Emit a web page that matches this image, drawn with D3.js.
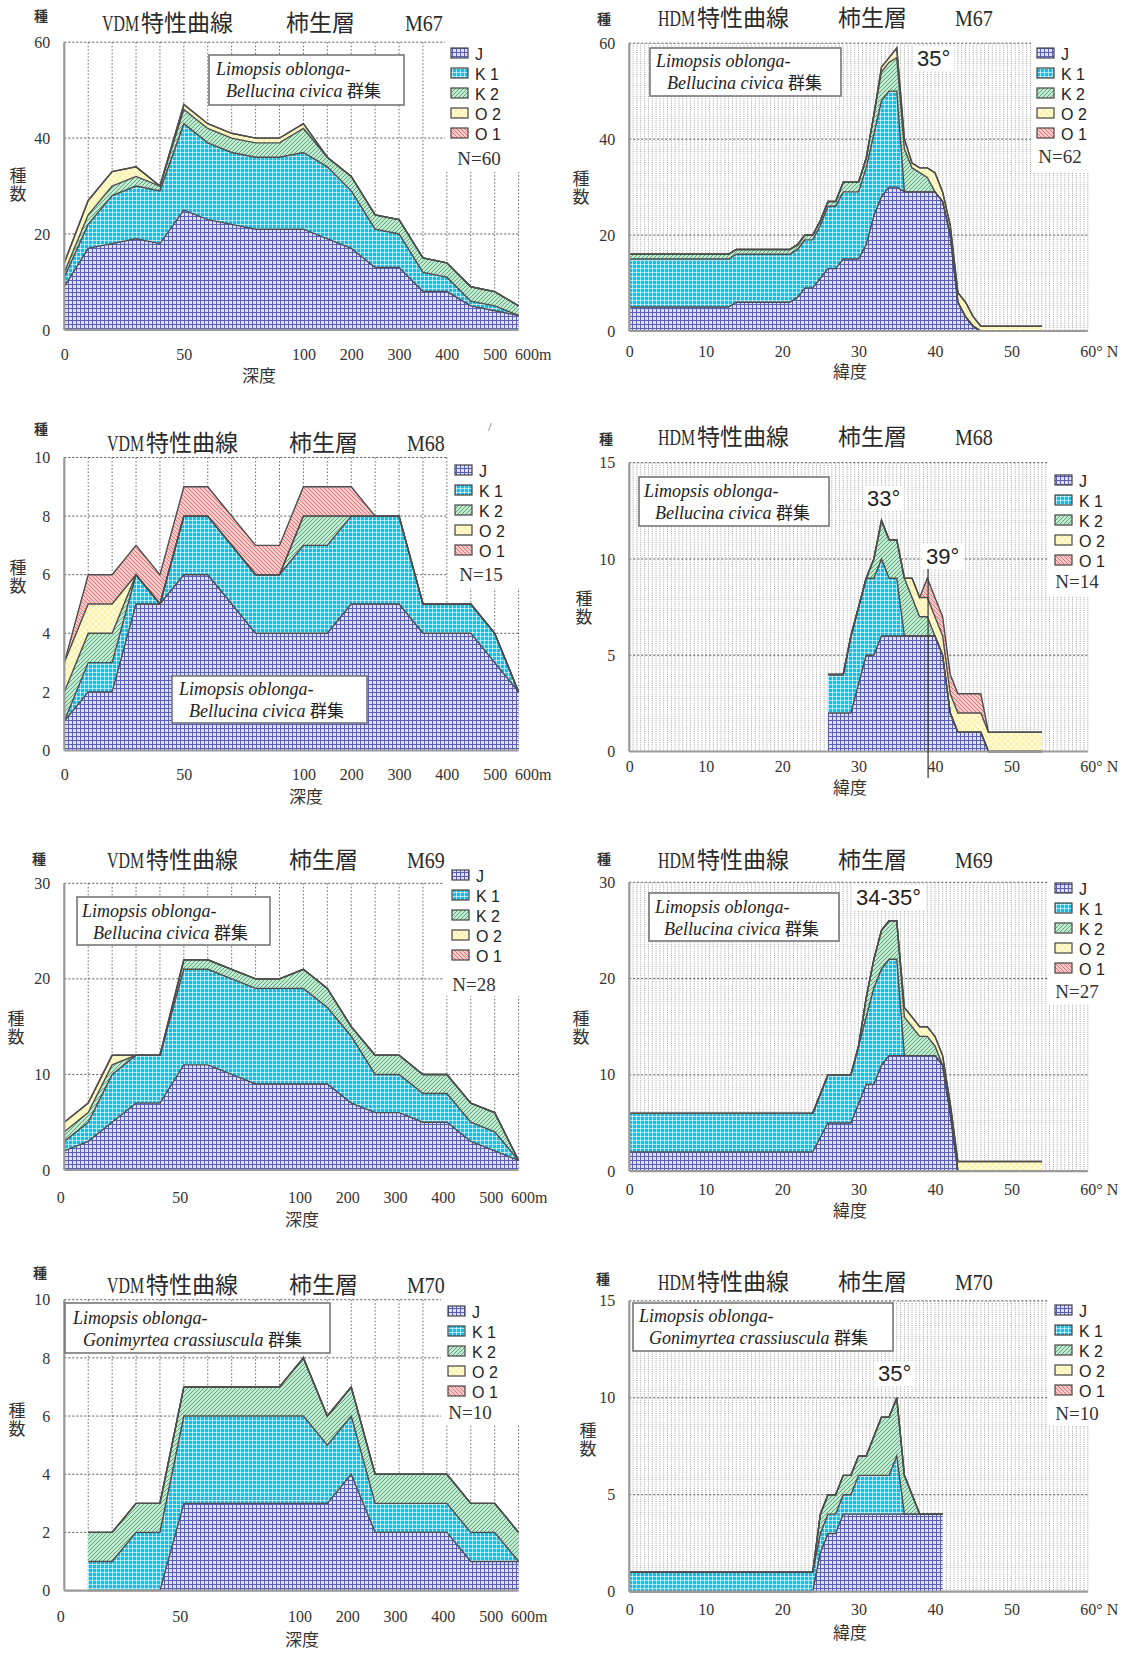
<!DOCTYPE html>
<html>
<head>
<meta charset="utf-8">
<script src="https://cdn.jsdelivr.net/npm/d3@7"></script>
<style>
  body { margin: 0; background: #fff; }
  svg { display: block; }
</style>
</head>
<body>
<div id="chart"></div>
<script>
const layerKeys = ['J', 'K1', 'K2', 'O2', 'O1'];
const legendNames = ['J', 'K 1', 'K 2', 'O 2', 'O 1'];

// depth categories (VDM), evenly spaced on the axis
const depthCats = [0, 10, 20, 30, 40, 50, 60, 70, 80, 90, 100, 150, 200, 250, 300, 350, 400, 450, 500, 600];
const depthTicks = [0, 50, 100, 200, 300, 400, 500, 600];
const latTicks = [0, 10, 20, 30, 40, 50, 60];

// M67 VDM (species per layer at each depth)
const m67dJ = [9, 17, 18, 19, 18, 25, 23, 22, 21, 21, 21, 19, 17, 13, 13, 8, 8, 5, 4, 3];
const m67dK1 = [2, 5, 10, 11, 11, 18, 16, 15, 15, 15, 16, 15, 12, 8, 7, 4, 3, 1, 1, 0];
const m67dK2 = [1, 2, 2, 2, 1, 3, 3, 3, 3, 3, 5, 2, 3, 3, 3, 3, 3, 3, 3, 2];
const m67dO2 = [2, 3, 3, 2, 0, 1, 1, 1, 1, 1, 1, 0, 0, 0, 0, 0, 0, 0, 0, 0];

// M67 HDM
const m67lLat = [0, 13, 14, 21, 22, 23, 24, 25, 26, 27, 28, 29, 30, 31, 32, 33, 34, 35, 36, 37, 38, 39, 40, 41, 42, 43, 44, 45, 46, 54];
const m67lJ = [5, 5, 6, 6, 7, 9, 9, 11, 13, 13, 15, 15, 15, 18, 24, 28, 30, 30, 29, 29, 29, 29, 29, 27, 20, 6, 3, 1, 0, 0];
const m67lK1 = [10, 10, 10, 10, 10, 10, 10, 11, 13, 13, 14, 14, 14, 16, 17, 20, 20, 20, 0, 0, 0, 0, 0, 0, 0, 0, 0, 0, 0, 0];
const m67lK2 = [1, 1, 1, 1, 1, 1, 1, 1, 1, 1, 2, 2, 2, 2, 4, 6, 6, 7, 9, 5, 4, 3, 0, 0, 0, 0, 0, 0, 0, 0];
const m67lO2 = [0, 0, 0, 0, 0, 0, 0, 0, 0, 0, 0, 0, 0, 0, 0, 1, 1, 2, 2, 1, 1, 2, 4, 2, 2, 2, 3, 2, 1, 1];

// M68 VDM
const m68dJ = [1, 2, 2, 5, 5, 6, 6, 5, 4, 4, 4, 4, 5, 5, 5, 4, 4, 4, 3, 2];
const m68dK1 = [0, 1, 1, 1, 0, 2, 2, 2, 2, 2, 3, 3, 3, 3, 3, 1, 1, 1, 1, 0];
const m68dK2 = [1, 1, 1, 0, 0, 0, 0, 0, 0, 0, 1, 1, 0, 0, 0, 0, 0, 0, 0, 0];
const m68dO2 = [1, 1, 1, 0, 0, 0, 0, 0, 0, 0, 0, 0, 0, 0, 0, 0, 0, 0, 0, 0];
const m68dO1 = [0, 1, 1, 1, 1, 1, 1, 1, 1, 1, 1, 1, 1, 0, 0, 0, 0, 0, 0, 0];

// M68 HDM
const m68lLat = [26, 28, 29, 31, 32, 33, 34, 35, 36, 37, 38, 39, 40, 41, 42, 43, 46, 47, 54];
const m68lJ = [2, 2, 2, 5, 5, 6, 6, 6, 6, 6, 6, 6, 6, 5, 2, 1, 1, 0, 0];
const m68lK1 = [2, 2, 4, 4, 4, 4, 3, 3, 0, 0, 0, 0, 0, 0, 0, 0, 0, 0, 0];
const m68lK2 = [0, 0, 0, 0, 1, 2, 2, 2, 3, 2, 1, 1, 0, 0, 0, 0, 0, 0, 0];
const m68lO2 = [0, 0, 0, 0, 0, 0, 0, 0, 0, 1, 1, 1, 1, 1, 1, 1, 1, 1, 1];
const m68lO1 = [0, 0, 0, 0, 0, 0, 0, 0, 0, 0, 0, 1, 1, 1, 1, 1, 1, 0, 0];

// M69 VDM
const m69dJ = [2, 3, 5, 7, 7, 11, 11, 10, 9, 9, 9, 9, 7, 6, 6, 5, 5, 3, 2, 1];
const m69dK1 = [1, 2, 5, 5, 5, 10, 10, 10, 10, 10, 10, 8, 7, 4, 4, 3, 3, 2, 2, 0];
const m69dK2 = [1, 1, 1, 0, 0, 1, 1, 1, 1, 1, 2, 2, 1, 2, 2, 2, 2, 2, 2, 0];
const m69dO2 = [1, 1, 1, 0, 0, 0, 0, 0, 0, 0, 0, 0, 0, 0, 0, 0, 0, 0, 0, 0];

// M69 HDM
const m69lLat = [0, 24, 26, 29, 30, 31, 32, 33, 34, 35, 36, 37, 38, 39, 40, 41, 42, 43, 54];
const m69lJ = [2, 2, 5, 5, 7, 9, 9, 11, 12, 12, 12, 12, 12, 12, 12, 11, 6, 0, 0];
const m69lK1 = [4, 4, 5, 5, 6, 7, 10, 10, 10, 10, 0, 0, 0, 0, 0, 0, 0, 0, 0];
const m69lK2 = [0, 0, 0, 0, 0, 2, 3, 4, 4, 4, 4, 3, 2, 2, 1, 0, 0, 0, 0];
const m69lO2 = [0, 0, 0, 0, 0, 0, 0, 0, 0, 0, 1, 1, 1, 1, 1, 1, 1, 1, 1];

// M70 VDM (no sample at 0 m)
const m70dJ = [null, 0, 0, 0, 0, 3, 3, 3, 3, 3, 3, 3, 4, 2, 2, 2, 2, 1, 1, 1];
const m70dK1 = [null, 1, 1, 2, 2, 3, 3, 3, 3, 3, 3, 2, 2, 1, 1, 1, 1, 1, 1, 0];
const m70dK2 = [null, 1, 1, 1, 1, 1, 1, 1, 1, 1, 2, 1, 1, 1, 1, 1, 1, 1, 1, 1];

// M70 HDM
const m70lLat = [0, 24, 25, 26, 27, 28, 29, 30, 31, 32, 33, 34, 35, 36, 37, 38, 41];
const m70lJ = [0, 0, 2, 3, 3, 4, 4, 4, 4, 4, 4, 4, 4, 4, 4, 4, 4];
const m70lK1 = [1, 1, 1, 1, 1, 1, 1, 2, 2, 2, 2, 2, 3, 0, 0, 0, 0];
const m70lK2 = [0, 0, 1, 1, 1, 1, 1, 1, 1, 2, 3, 3, 3, 2, 1, 0, 0];

const FONT_SERIF = "'Liberation Serif', 'Noto Sans CJK JP', serif";
const FONT_SANS = "'Liberation Sans', Arial, sans-serif";
const FONT_CJK = "'Noto Sans CJK JP', sans-serif";

const noteLimopsis = ['Limopsis oblonga-', 'Bellucina civica '];
const noteGonimyrtea = ['Limopsis oblonga-', 'Gonimyrtea crassiuscula '];

// note: l1 = start of first line, l2x = indent of second line
const panels = [
  { kind: 'depth', station: 'M67', left: 64.3, right: 518.6, top: 42.2, bottom: 329.9, yMax: 60, yTicks: [0, 20, 40, 60],
    series: { J: m67dJ, K1: m67dK1, K2: m67dK2, O2: m67dO2 },
    titleX: [102, 286, 405], titleY: 31, zhu: [41, 15], zhushu: [18, 185], axisXY: [259, 382], tickY: 360, tickDx: 0,
    legendX: 451, legendY: 48, n: 'N=60', nXY: [479, 165], legendBg: [445, 38, 90, 134],
    note: { x: 209, y: 55, w: 195, h: 50, l1: [216, 75], l2x: 226, lines: noteLimopsis } },
  { kind: 'lat', station: 'M67', left: 629.3, right: 1087.8, top: 43.2, bottom: 331, yMax: 60, yTicks: [0, 20, 40, 60],
    lats: m67lLat, series: { J: m67lJ, K1: m67lK1, K2: m67lK2, O2: m67lO2 },
    titleX: [658, 838, 955], titleY: 26, zhu: [604, 18], zhushu: [581, 188], axisXY: [850, 378], tickY: 357, tickDx: 0,
    legendX: 1037, legendY: 48, n: 'N=62', nXY: [1060, 163], legendBg: [1031, 38, 95, 134],
    note: { x: 650, y: 48, w: 191, h: 48, l1: [656, 67], l2x: 667, lines: noteLimopsis },
    degrees: [{ text: '35°', x: 917, y: 66 }] },
  { kind: 'depth', station: 'M68', left: 64.3, right: 518.6, top: 457.5, bottom: 750.5, yMax: 10, yTicks: [0, 2, 4, 6, 8, 10],
    series: { J: m68dJ, K1: m68dK1, K2: m68dK2, O2: m68dO2, O1: m68dO1 },
    titleX: [107, 289, 407], titleY: 451, zhu: [41, 428], zhushu: [18, 577], axisXY: [306, 803], tickY: 780, tickDx: 0,
    legendX: 455, legendY: 465, n: 'N=15', nXY: [481, 581], legendBg: [448, 454, 90, 134],
    note: { x: 172, y: 676, w: 195, h: 47, l1: [179, 695], l2x: 189, lines: noteLimopsis } },
  { kind: 'lat', station: 'M68', left: 629.3, right: 1087.8, top: 462.7, bottom: 751.5, yMax: 15, yTicks: [0, 5, 10, 15],
    lats: m68lLat, series: { J: m68lJ, K1: m68lK1, K2: m68lK2, O2: m68lO2, O1: m68lO1 },
    titleX: [658, 838, 955], titleY: 445, zhu: [606, 438], zhushu: [584, 608], axisXY: [850, 794], tickY: 772, tickDx: 0,
    legendX: 1055, legendY: 475, n: 'N=14', nXY: [1077, 588], legendBg: [1049, 462, 75, 134],
    note: { x: 639, y: 477, w: 190, h: 49, l1: [644, 497], l2x: 655, lines: noteLimopsis },
    degrees: [{ text: '33°', x: 867, y: 506 }, { text: '39°', x: 926, y: 564 }], marker: { lat: 39.1, y1: 567, y2: 778 } },
  { kind: 'depth', station: 'M69', left: 64.3, right: 518.6, top: 883.3, bottom: 1170, yMax: 30, yTicks: [0, 10, 20, 30],
    series: { J: m69dJ, K1: m69dK1, K2: m69dK2, O2: m69dO2 },
    titleX: [107, 289, 407], titleY: 868, zhu: [39, 858], zhushu: [16, 1028], axisXY: [302, 1226], tickY: 1203, tickDx: -4,
    legendX: 452, legendY: 870, n: 'N=28', nXY: [474, 991], legendBg: [444, 862, 90, 134],
    note: { x: 77, y: 897, w: 193, h: 48, l1: [82, 917], l2x: 93, lines: noteLimopsis } },
  { kind: 'lat', station: 'M69', left: 629.3, right: 1087.8, top: 882.3, bottom: 1171.1, yMax: 30, yTicks: [0, 10, 20, 30],
    lats: m69lLat, series: { J: m69lJ, K1: m69lK1, K2: m69lK2, O2: m69lO2 },
    titleX: [658, 838, 955], titleY: 868, zhu: [604, 858], zhushu: [581, 1028], axisXY: [850, 1217], tickY: 1195, tickDx: 0,
    legendX: 1055, legendY: 883, n: 'N=27', nXY: [1077, 998], legendBg: [1049, 876, 75, 128],
    note: { x: 649, y: 893, w: 190, h: 48, l1: [655, 913], l2x: 664, lines: noteLimopsis },
    degrees: [{ text: '34-35°', x: 856, y: 905 }] },
  { kind: 'depth', station: 'M70', left: 64.3, right: 518.6, top: 1299.7, bottom: 1590.6, yMax: 10, yTicks: [0, 2, 4, 6, 8, 10],
    series: { J: m70dJ, K1: m70dK1, K2: m70dK2 },
    titleX: [107, 289, 407], titleY: 1293, zhu: [40, 1272], zhushu: [17, 1420], axisXY: [302, 1646], tickY: 1622, tickDx: -4,
    legendX: 448, legendY: 1306, n: 'N=10', nXY: [470, 1419], legendBg: [441, 1297, 95, 128],
    note: { x: 65, y: 1303, w: 265, h: 50, l1: [73, 1324], l2x: 83, lines: noteGonimyrtea } },
  { kind: 'lat', station: 'M70', left: 629.3, right: 1087.8, top: 1300.8, bottom: 1591.7, yMax: 15, yTicks: [0, 5, 10, 15],
    lats: m70lLat, series: { J: m70lJ, K1: m70lK1, K2: m70lK2 },
    titleX: [658, 838, 955], titleY: 1290, zhu: [603, 1278], zhushu: [588, 1440], axisXY: [850, 1639], tickY: 1615, tickDx: 0,
    legendX: 1055, legendY: 1305, n: 'N=10', nXY: [1077, 1420], legendBg: [1049, 1298, 75, 128],
    note: { x: 633, y: 1303, w: 260, h: 48, l1: [639, 1322], l2x: 649, lines: noteGonimyrtea },
    degrees: [{ text: '35°', x: 878, y: 1381 }] },
];

const svg = d3.select('#chart').append('svg')
  .attr('width', 1130).attr('height', 1653)
  .style('font-family', FONT_SERIF);
svg.append('rect').attr('width', 1130).attr('height', 1653).attr('fill', '#fff');

// fill patterns for the five layers
const defs = svg.append('defs');
function makePattern(id, size, bg, path, stroke, width, opacity) {
  const p = defs.append('pattern').attr('id', id)
    .attr('patternUnits', 'userSpaceOnUse').attr('width', size).attr('height', size);
  p.append('rect').attr('width', size).attr('height', size).attr('fill', bg);
  p.append('path').attr('d', path).attr('fill', 'none')
    .attr('stroke', stroke).attr('stroke-width', width).attr('stroke-opacity', opacity);
}
makePattern('pat-J', 4, '#dfe0f6', 'M0 0.5H4M0.5 0V4', '#5a5fb6', 1, 1);
makePattern('pat-K1', 4, '#12bfeb', 'M0 0.5H4M0.5 0V4', '#ffffff', 1, 0.6);
makePattern('pat-K2', 4, '#c2ead0', 'M0 4L4 0M-1 1L1 -1M3 5L5 3', '#4f9f72', 0.9, 1);
makePattern('pat-O2', 6, '#fbf1a0', 'M0 0L6 6M6 0L0 6', '#fffbe0', 1.3, 1);
makePattern('pat-O1', 4, '#f9c8c8', 'M0 0L4 4M-1 3L1 5M3 -1L5 1', '#e46d6d', 0.9, 1);

function drawPanel(p) {
  const g = svg.append('g');
  const isDepth = p.kind === 'depth';
  const xs = isDepth ? depthCats : p.lats;
  const x = isDepth
    ? d3.scalePoint().domain(depthCats).range([p.left, p.right])
    : d3.scaleLinear().domain([0, 60]).range([p.left, p.right]);
  const y = d3.scaleLinear().domain([0, p.yMax]).range([p.bottom, p.top]);

  // grid
  const grid = g.append('g').attr('fill', 'none');
  if (isDepth) {
    grid.selectAll('line.v').data(depthCats.slice(1)).join('line').attr('class', 'v')
      .attr('x1', (d) => x(d)).attr('x2', (d) => x(d))
      .attr('y1', p.top).attr('y2', p.bottom)
      .attr('stroke', '#666').attr('stroke-width', 1).attr('stroke-dasharray', '1.5,2');
  } else {
    grid.selectAll('line.v').data(d3.range(1, 121).map((i) => i / 2)).join('line').attr('class', 'v')
      .attr('x1', (d) => x(d)).attr('x2', (d) => x(d))
      .attr('y1', p.top).attr('y2', p.bottom)
      .attr('stroke', '#949494').attr('stroke-width', 0.9).attr('stroke-dasharray', '1,1.2');
  }
  grid.selectAll('line.h').data(p.yTicks.slice(1)).join('line').attr('class', 'h')
    .attr('x1', p.left).attr('x2', p.right)
    .attr('y1', (d) => y(d)).attr('y2', (d) => y(d))
    .attr('stroke', '#555').attr('stroke-width', 1).attr('stroke-dasharray', '2,2');

  // white area behind the legend
  g.append('rect').attr('x', p.legendBg[0]).attr('y', p.legendBg[1])
    .attr('width', p.legendBg[2]).attr('height', p.legendBg[3]).attr('fill', '#fff');

  // stacked layers
  const rows = xs.map((xv, i) => {
    const row = { x: xv, def: p.series.J[i] != null };
    layerKeys.forEach((k) => { row[k] = p.series[k] ? (p.series[k][i] || 0) : 0; });
    return row;
  });
  const stacked = d3.stack().keys(layerKeys)(rows);
  const area = d3.area().defined((d) => d.data.def)
    .x((d) => x(d.data.x)).y0((d) => y(d[0])).y1((d) => y(d[1]));
  const edge = d3.line().defined((d) => d.data.def)
    .x((d) => x(d.data.x)).y((d) => y(d[1]));
  g.selectAll('path.band').data(stacked).join('path').attr('class', 'band')
    .attr('d', area).attr('fill', (d) => `url(#pat-${d.key})`);
  g.selectAll('path.edge').data(stacked).join('path').attr('class', 'edge')
    .attr('d', edge).attr('fill', 'none').attr('stroke', '#4d4d4d').attr('stroke-width', 1.4);

  // axes lines
  g.append('line').attr('x1', p.left).attr('x2', p.left).attr('y1', p.top).attr('y2', p.bottom)
    .attr('stroke', '#999').attr('stroke-width', 2.2);
  g.append('line').attr('x1', p.left).attr('x2', p.right).attr('y1', p.bottom).attr('y2', p.bottom)
    .attr('stroke', '#999').attr('stroke-width', 2.2);

  // tick labels
  const ya = g.append('g').attr('transform', `translate(${p.left},0)`)
    .call(d3.axisLeft(y).tickValues(p.yTicks).tickSize(0).tickPadding(14));
  ya.select('.domain').remove();
  ya.attr('font-family', FONT_SERIF).attr('font-size', 16);
  ya.selectAll('text').attr('fill', '#333');

  const xTicks = isDepth ? depthTicks : latTicks;
  const lastLabel = isDepth ? '600m' : '60° N';
  const xa = g.append('g').attr('transform', `translate(${p.tickDx},${p.tickY})`)
    .call(d3.axisBottom(x).tickValues(xTicks).tickSize(0).tickPadding(0)
      .tickFormat((d, i) => (i === xTicks.length - 1 ? lastLabel : d)));
  xa.select('.domain').remove();
  xa.attr('font-family', FONT_SERIF).attr('font-size', 16);
  xa.selectAll('text').attr('fill', '#333').attr('dy', 0);
  xa.selectAll('.tick:last-of-type text').attr('text-anchor', 'start').attr('x', isDepth ? -4 : -8);

  // marker line (M68 HDM)
  if (p.marker) {
    g.append('line').attr('x1', x(p.marker.lat)).attr('x2', x(p.marker.lat))
      .attr('y1', p.marker.y1).attr('y2', p.marker.y2)
      .attr('stroke', '#333').attr('stroke-width', 1.2);
  }

  // assemblage note
  const nt = p.note;
  g.append('rect').attr('x', nt.x).attr('y', nt.y).attr('width', nt.w).attr('height', nt.h)
    .attr('fill', '#fff').attr('stroke', '#777').attr('stroke-width', 1.6);
  g.append('text').attr('x', nt.l1[0]).attr('y', nt.l1[1])
    .attr('font-size', 18).attr('font-style', 'italic').attr('fill', '#222').text(nt.lines[0]);
  const l2 = g.append('text').attr('x', nt.l2x).attr('y', nt.l1[1] + 22)
    .attr('font-size', 18).attr('font-style', 'italic').attr('fill', '#222').text(nt.lines[1]);
  l2.append('tspan').attr('font-style', 'normal').attr('font-family', FONT_CJK).attr('font-size', 17).text('群集');

  // legend
  layerKeys.forEach((k, i) => {
    const yy = p.legendY + i * 20;
    g.append('rect').attr('x', p.legendX).attr('y', yy).attr('width', 17).attr('height', 10)
      .attr('fill', `url(#pat-${k})`).attr('stroke', '#444').attr('stroke-width', 1.2);
    g.append('text').attr('x', p.legendX + 24).attr('y', yy + 11.5)
      .attr('font-family', FONT_SANS).attr('font-size', 16).attr('fill', '#222').text(legendNames[i]);
  });
  g.append('text').attr('x', p.nXY[0]).attr('y', p.nXY[1]).attr('text-anchor', 'middle')
    .attr('font-size', 19).attr('fill', '#333').text(p.n);

  // degree labels with white background
  (p.degrees || []).forEach((dg) => {
    const t = g.append('text').attr('x', dg.x).attr('y', dg.y)
      .attr('font-family', FONT_SANS).attr('font-size', 22).attr('fill', '#222').text(dg.text);
    const bb = t.node().getBBox();
    g.insert('rect', () => t.node()).attr('x', bb.x - 4).attr('y', bb.y)
      .attr('width', bb.width + 8).attr('height', bb.height).attr('fill', '#fff');
  });

  // titles (latin parts narrowed like the condensed original type)
  const kindName = isDepth ? 'VDM' : 'HDM';
  g.append('text').attr('transform', `translate(${p.titleX[0]},${p.titleY}) scale(0.69,1)`)
    .attr('font-size', 23).attr('fill', '#2a2a2a').text(kindName);
  g.append('text').attr('x', p.titleX[0] + 39).attr('y', p.titleY).attr('font-size', 23).attr('fill', '#2a2a2a')
    .attr('font-family', FONT_CJK).text('特性曲線');
  g.append('text').attr('x', p.titleX[1]).attr('y', p.titleY).attr('font-size', 23).attr('fill', '#2a2a2a')
    .attr('font-family', FONT_CJK).text('柿生層');
  g.append('text').attr('transform', `translate(${p.titleX[2]},${p.titleY}) scale(0.87,1)`)
    .attr('font-size', 23).attr('fill', '#2a2a2a').text(p.station);

  // axis names
  g.append('text').attr('x', p.zhu[0]).attr('y', p.zhu[1]).attr('text-anchor', 'middle')
    .attr('dominant-baseline', 'central').attr('font-family', FONT_CJK).attr('font-weight', 'bold')
    .attr('font-size', 14).attr('fill', '#333').text('種');
  // vertical two-character label
  g.append('text').attr('x', p.zhushu[0]).attr('y', p.zhushu[1])
    .attr('text-anchor', 'middle').style('writing-mode', 'vertical-rl')
    .attr('font-family', FONT_CJK).attr('font-size', 17).attr('letter-spacing', 1)
    .attr('fill', '#333').text('種数');
  g.append('text').attr('x', p.axisXY[0]).attr('y', p.axisXY[1]).attr('text-anchor', 'middle')
    .attr('font-family', FONT_CJK).attr('font-size', 17).attr('fill', '#333')
    .text(isDepth ? '深度' : '緯度');
}

panels.forEach(drawPanel);

// stray mark in the original scan
svg.append('text').attr('x', 488).attr('y', 431).attr('font-size', 13).attr('fill', '#666').text('/');
</script>
</body>
</html>
